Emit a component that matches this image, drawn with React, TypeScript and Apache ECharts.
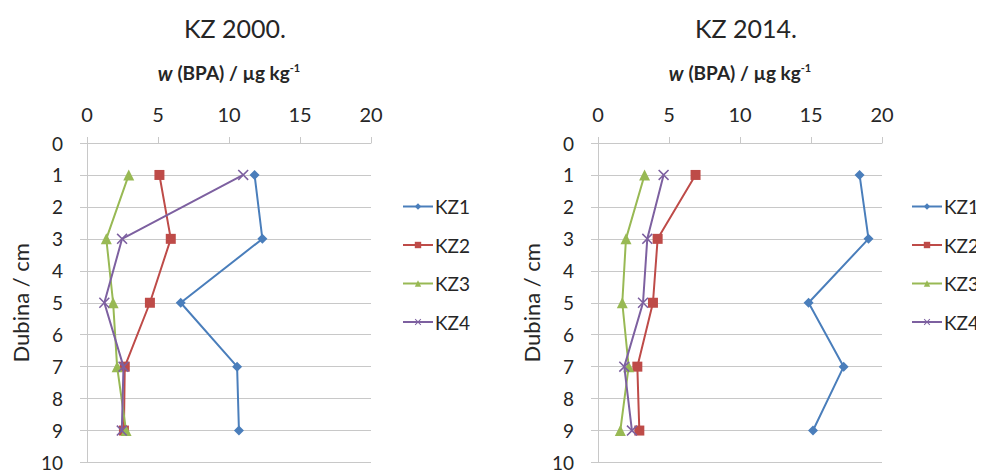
import React, { useEffect, useRef } from "react";
import * as echarts from "echarts";

const depths = [1, 3, 5, 7, 9];
const yTicks = [0, 1, 2, 3, 4, 5, 6, 7, 8, 9, 10];
const seriesNames = ["KZ1", "KZ2", "KZ3", "KZ4"];
const titles = ["KZ 2000.", "KZ 2014."];

// KZ 2000.
const kz2000_KZ1 = [11.8, 12.35, 6.6, 10.57, 10.7];
const kz2000_KZ2 = [5.1, 5.9, 4.43, 2.66, 2.6];
const kz2000_KZ3 = [2.94, 1.36, 1.84, 2.12, 2.75];
const kz2000_KZ4 = [11.0, 2.47, 1.22, 2.57, 2.45];

// KZ 2014.
const kz2014_KZ1 = [18.42, 19.05, 14.83, 17.3, 15.14];
const kz2014_KZ2 = [6.87, 4.2, 3.87, 2.77, 2.91];
const kz2014_KZ3 = [3.28, 1.97, 1.71, 2.16, 1.57];
const kz2014_KZ4 = [4.62, 3.47, 3.17, 1.85, 2.39];

const colors = ["#4a7ebb", "#be4b48", "#98b954", "#7d60a0"];
const xPath = "path://M0,1L1,0L5,4L9,0L10,1L6,5L10,9L9,10L5,6L1,10L0,9L4,5Z";
const symbols = ["diamond", "rect", "triangle", xPath];
const symbolSizes = [10, 10, 11, 11];

const FONT = "Lato, 'Open Sans', sans-serif";
const TEXT = "#262626";

export default function App() {
  const ref = useRef<HTMLDivElement>(null);
  useEffect(() => {
    if (!ref.current) return;
    const chart = echarts.init(ref.current, null, { renderer: "svg" });
    const panels = [
      [kz2000_KZ1, kz2000_KZ2, kz2000_KZ3, kz2000_KZ4],
      [kz2014_KZ1, kz2014_KZ2, kz2014_KZ3, kz2014_KZ4],
    ];
    const gridLefts = [87, 598];
    const gridW = 284;
    const titleCenters = [235, 746];
    const series: any[] = [];
    panels.forEach((vals, p) => {
      vals.forEach((arr, i) => {
        series.push({
          name: seriesNames[i],
          type: "line",
          xAxisIndex: p,
          yAxisIndex: p,
          data: arr.map((v, k) => [v, depths[k]]),
          symbol: symbols[i],
          symbolSize: symbolSizes[i],
          lineStyle: { color: colors[i], width: 2 },
          itemStyle: { color: colors[i] },
          z: 2 + (i === 3 ? 1 : 0),
        });
      });
    });
    const xName = "{i|w} {b|(BPA) / µg kg}{s|-1}";
    chart.setOption({
      animation: false,
      textStyle: { fontFamily: FONT },
      graphic: titles.map((t, p) => ({
        type: "text",
        x: titleCenters[p],
        y: 28,
        style: {
          text: t,
          fontSize: 25,
          fontFamily: FONT,
          fill: TEXT,
          textAlign: "center",
          textVerticalAlign: "middle",
        },
      })),
      legend: [0, 1].map((p) => ({
        data: seriesNames,
        orient: "vertical",
        left: p === 0 ? 402 : 911,
        top: 197,
        padding: 0,
        itemWidth: 30,
        itemHeight: 8,
        itemGap: 19.5,
        textStyle: { fontSize: 19, color: TEXT, fontFamily: FONT, padding: [0, 0, 0, -3], overflow: "none" },
      })),
      grid: gridLefts.map((l) => ({ left: l, top: 143, width: gridW, height: 322 })),
      xAxis: [0, 1].map((p) => ({
        type: "value",
        gridIndex: p,
        position: "top",
        min: 0,
        max: 20,
        interval: 5,
        name: xName,
        nameLocation: "middle",
        nameGap: 60,
        nameTextStyle: {
          fontSize: 19,
          color: TEXT,
          rich: {
            i: { fontSize: 20, fontStyle: "italic", fontWeight: "bold", color: TEXT, fontFamily: FONT },
            b: { fontSize: 19, fontWeight: "bold", color: TEXT, fontFamily: FONT },
            s: { fontSize: 11, fontWeight: "bold", color: TEXT, fontFamily: FONT, verticalAlign: "top", padding: [0, 0, 10, 0] },
          },
        },
        axisLine: { show: true, lineStyle: { color: "#c8c8c8", width: 1 } },
        axisTick: { show: true, length: 6, lineStyle: { color: "#c8c8c8" } },
        axisLabel: { fontSize: 20, color: TEXT, margin: 19 },
        splitLine: { show: false },
      })),
      yAxis: [0, 1].map((p) => ({
        type: "value",
        gridIndex: p,
        inverse: true,
        min: 0,
        max: 10,
        interval: 1,
        name: "Dubina / cm",
        nameLocation: "middle",
        nameRotate: 90,
        nameGap: 56,
        nameTextStyle: { fontSize: 22, color: TEXT },
        axisLine: { show: true, lineStyle: { color: "#c8c8c8", width: 1 } },
        axisTick: { show: true, length: 7, lineStyle: { color: "#c8c8c8" } },
        axisLabel: { fontSize: 19, color: TEXT, margin: 24, customValues: yTicks },
        splitLine: { show: true, lineStyle: { color: "#c8c8c8", width: 1 } },
      })),
      series,
    });
    return () => chart.dispose();
  }, []);
  return <div ref={ref} style={{ width: 984, height: 472, marginLeft: -8, marginTop: -8 }} />;
}
